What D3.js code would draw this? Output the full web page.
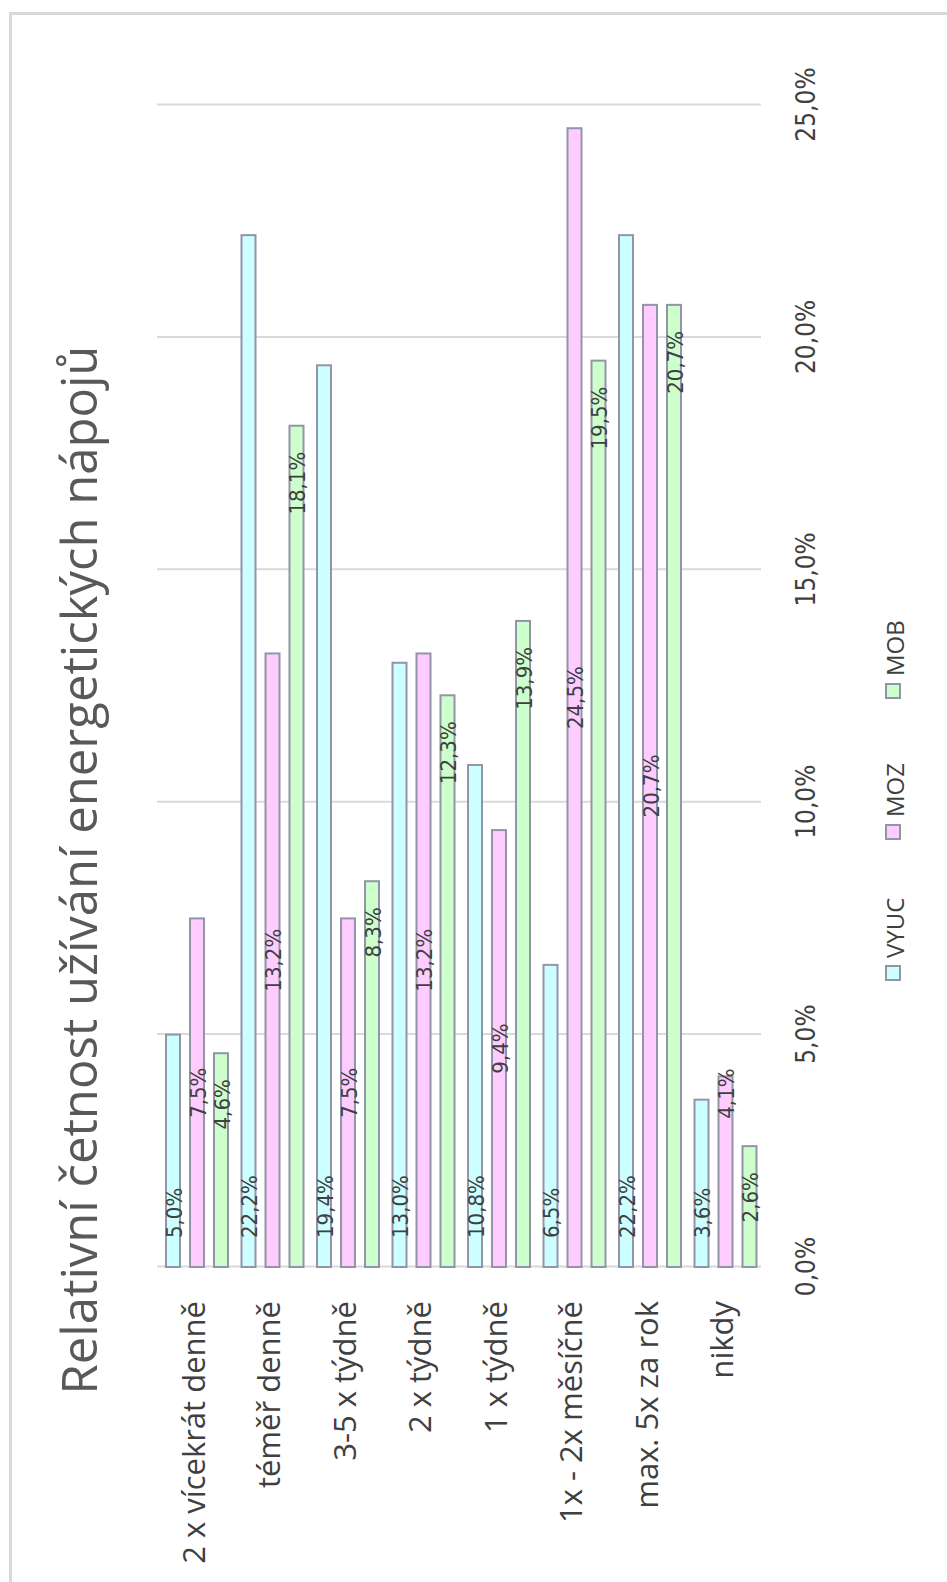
<!DOCTYPE html>
<html>
<head>
<meta charset="utf-8">
<script src="https://cdn.jsdelivr.net/npm/d3@7"></script>
<style>
  body { margin: 0; background: #fff; }
  svg { display: block; }
</style>
</head>
<body>
<script>
// data
const categories = ["2 x vícekrát denně", "téměř denně", "3-5 x týdně", "2 x týdně",
                    "1 x týdně", "1x - 2x měsíčně", "max. 5x za rok", "nikdy"]
const series = ["VYUC", "MOZ", "MOB"]
const vyuc = [5.0, 22.2, 19.4, 13.0, 10.8, 6.5, 22.2, 3.6]
const moz  = [7.5, 13.2, 7.5, 13.2, 9.4, 24.5, 20.7, 4.1]
const mob  = [4.6, 18.1, 8.3, 12.3, 13.9, 19.5, 20.7, 2.6]
const tickValues = [0, 5, 10, 15, 20, 25]
const title = "Relativní četnost užívání energetických nápojů"

const W = 947, H = 1582
const colors = { VYUC: "#ccffff", MOZ: "#ffccff", MOB: "#ccffcc" }
// where each series puts its value label
const labelPos = { VYUC: "base", MOZ: "center", MOB: "end" }

const values = { VYUC: vyuc, MOZ: moz, MOB: mob }
const rows = []
categories.forEach((c, i) => {
  series.forEach(s => rows.push({ cat: c, s: s, v: values[s][i] }))
})

const cz = d3.formatLocale({ decimal: ",", thousands: " ", grouping: [3], currency: ["", " Kč"] })
const fmt = v => cz.format(".1f")(v) + "%"

const svg = d3.select("body").append("svg")
  .attr("width", W)
  .attr("height", H)

// chart frame (only top/left edges are in view)
svg.append("rect")
  .attr("x", 10.5).attr("y", 13.5)
  .attr("width", 1200).attr("height", 1800)
  .attr("fill", "none")
  .attr("stroke", "#d9d9d9")
  .attr("stroke-width", 3)

// whole chart is drawn as a horizontal bar chart, then turned 90deg
const g = svg.append("g")
  .attr("transform", "translate(0," + H + ") rotate(-90)")

const x = d3.scaleLinear().domain([0, 25]).range([315, 1477])
const y0 = d3.scaleBand().domain(categories).range([157, 761])
const y1 = d3.scaleBand().domain(series).range([9, 71]).paddingInner(10 / 24)

// gridlines + value ticks
const grid = g.append("g")
  .attr("transform", "translate(0,157)")
  .call(d3.axisBottom(x).tickValues(tickValues).tickSize(604).tickPadding(36).tickFormat(fmt))
grid.select(".domain").remove()
grid.selectAll(".tick line").attr("stroke", "#d9d9d9").attr("stroke-width", 2)
grid.selectAll(".tick text")
  .attr("fill", "#404040")
  .style("font-family", "'DejaVu Sans Condensed', 'DejaVu Sans', sans-serif")
  .style("font-size", "26px")

// bars
g.append("g").selectAll("rect")
  .data(rows)
  .enter()
  .append("rect")
  .attr("x", x(0))
  .attr("y", d => y0(d.cat) + y1(d.s))
  .attr("width", d => x(d.v) - x(0))
  .attr("height", y1.bandwidth())
  .attr("fill", d => colors[d.s])
  .attr("stroke", "#9494a8")
  .attr("stroke-width", 2)

// value labels
function posOf(d) {
  return (d.s == "MOZ" && d.v < 5) ? "top" : labelPos[d.s]
}
g.append("g").selectAll("text")
  .data(rows)
  .enter()
  .append("text")
  .attr("x", d => {
    const p = posOf(d)
    if (p == "base") return x(0) + 29
    if (p == "center") return (x(0) + x(d.v)) / 2
    if (p == "top") return x(d.v) + 8
    return x(d.v) - 26
  })
  .attr("text-anchor", d => {
    const p = posOf(d)
    return p == "base" ? "start" : p == "center" ? "middle" : "end"
  })
  .attr("y", d => y0(d.cat) + y1(d.s) + y1.bandwidth() / 2 + 1)
  .attr("dominant-baseline", "central")
  .attr("fill", "#404040")
  .style("font-family", "'DejaVu Sans Condensed', 'DejaVu Sans', sans-serif")
  .style("font-size", "22px")
  .text(d => fmt(d.v))

// category labels
g.append("g").selectAll("text")
  .data(categories)
  .enter()
  .append("text")
  .attr("x", 281)
  .attr("y", d => y0(d) + y0.bandwidth() / 2 - 2)
  .attr("text-anchor", "end")
  .attr("dominant-baseline", "central")
  .attr("fill", "#404040")
  .style("font-family", "'Open Sans', sans-serif")
  .style("font-size", "31px")
  .text(d => d)

// title
g.append("text")
  .attr("x", 712)
  .attr("y", 78)
  .attr("text-anchor", "middle")
  .attr("dominant-baseline", "central")
  .attr("fill", "#595959")
  .style("font-family", "'Open Sans', sans-serif")
  .style("font-size", "49px")
  .text(title)

// legend
const legend = g.append("g").attr("transform", "translate(602,886)")
const item = legend.selectAll("g")
  .data(series)
  .enter()
  .append("g")
  .attr("transform", (d, i) => "translate(" + (i * 141) + ",0)")
item.append("rect")
  .attr("width", 14).attr("height", 14)
  .attr("fill", d => colors[d])
  .attr("stroke", "#9494a8")
  .attr("stroke-width", 2)
item.append("text")
  .attr("x", 22)
  .attr("y", 8)
  .attr("dominant-baseline", "central")
  .attr("fill", "#404040")
  .style("font-family", "'Open Sans', sans-serif")
  .style("font-size", "24px")
  .text(d => d)
</script>
</body>
</html>
